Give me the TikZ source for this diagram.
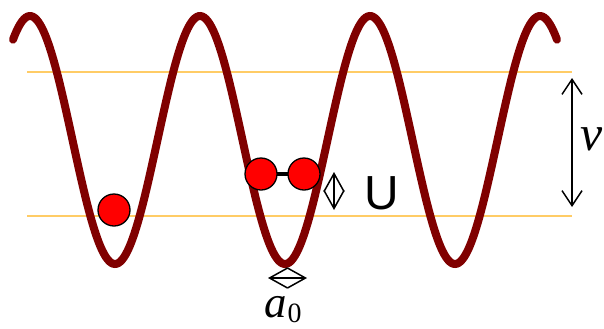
\documentclass[tikz,border=0pt]{standalone}
\usepackage{fontspec}
\setmainfont{Liberation Serif}
\newfontfamily\sansf{Liberation Sans}
\usetikzlibrary{arrows.meta}
\definecolor{wavered}{HTML}{800000}
\definecolor{levelorange}{HTML}{FFCC66}
\tikzset{
  wave/.style={draw=wavered, line width=8bp, line cap=round},
  level/.style={draw=levelorange, line width=2bp},
  ball/.style={circle, fill=red, draw=black, line width=1.3bp, minimum size=32bp, inner sep=0pt},
  bar/.style={draw=black, line width=4.5bp},
  dblarrow/.style={line width=1.5bp, {Straight Barb[length=15bp,width=20bp]}-{Straight Barb[length=15bp,width=20bp]}},
  diamarrow/.style={line width=1.5bp, {Straight Barb[length=18bp,width=20bp]}-{Straight Barb[length=18bp,width=20bp]}},
  lbl/.style={inner sep=0pt}
}
\begin{document}
\begin{tikzpicture}[x=1bp,y=-1bp]
\useasboundingbox (0,0) rectangle (604,328);
% levels
\coordinate (l1a) at (27,72); \coordinate (l1b) at (572,72);
\coordinate (l2a) at (27,216); \coordinate (l2b) at (572,216);
\draw[level] (l1a) -- (l1b);
\draw[level] (l2a) -- (l2b);
% wave
\draw[wave] plot[domain=13:557, samples=300, smooth] (\x, {140-124*cos(2.117647*(\x-30))});
% single ball
\node[ball] (b1) at (114,210) {};
% molecule
\coordinate (m1) at (261,174);
\coordinate (m2) at (304,174);
\draw[bar] (m1) -- (m2);
\node[ball] (b2) at (m1) {};
\node[ball] (b3) at (m2) {};
% U arrow
\coordinate (u1) at (334,172);
\coordinate (u2) at (334,210);
\draw[diamarrow] (u1) -- (u2);
\node[lbl, font=\sansf\fontsize{48}{48}\selectfont] (U) at (382,193.5) {U};
% a0 arrow
\coordinate (a1) at (268,278);
\coordinate (a2) at (307,278);
\draw[diamarrow] (a1) -- (a2);
\node[lbl, anchor=base west, font=\fontsize{45}{45}\selectfont] (a0) at (264,317) {\itshape a\kern1bp\raisebox{-5bp}{\upshape\fontsize{28}{28}\selectfont 0}};
% nu arrow
\coordinate (n1) at (572,78);
\coordinate (n2) at (572,207);
\draw[dblarrow] (n1) -- (n2);
\node[lbl, anchor=base west, font=\fontsize{50}{50}\selectfont] (nu) at (580,150) {\itshape ν};
\end{tikzpicture}
\end{document}
